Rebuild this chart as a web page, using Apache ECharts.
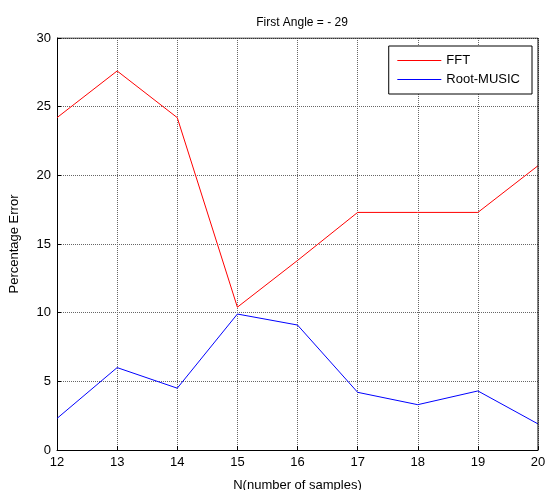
<!DOCTYPE html>
<html>
<head>
<meta charset="UTF-8">
<script src="https://cdn.jsdelivr.net/npm/echarts@6/dist/echarts.min.js"></script>
<style>
  html, body { margin: 0; padding: 0; background: #fff; }
  #main { width: 546px; height: 490px; }
</style>
</head>
<body>
<div id="main"></div>
<script>
// N values (x axis)
var samples = [12, 13, 14, 15, 16, 17, 18, 19, 20];
// percentage error
var fftErr = [24.2, 27.6, 24.2, 10.4, 13.8, 17.3, 17.3, 17.3, 20.7];
var musicErr = [2.3, 6.0, 4.5, 9.9, 9.1, 4.2, 3.3, 4.3, 1.9];

var chart = echarts.init(document.getElementById('main'));

function pairs(ys) {
  return samples.map(function (x, i) { return [x, ys[i]]; });
}

var font = 'Liberation Sans, Arial, sans-serif';

chart.setOption({
  animation: false,
  title: {
    text: 'First Angle = - 29',
    left: 297, top: 12, textAlign: 'center',
    textStyle: { fontSize: 12, fontWeight: 'normal', color: '#000', fontFamily: font }
  },
  grid: { left: 57, right: 8, top: 38, bottom: 40, outerBoundsMode: 'none', containLabel: false },
  legend: {
    right: 14, top: 46,
    orient: 'vertical',
    itemWidth: 44, itemHeight: 12, itemGap: 6,
    padding: [8, 12, 8, 8],
    borderColor: '#000', borderWidth: 1, backgroundColor: '#fff',
    itemStyle: { opacity: 0, borderWidth: 0 },
    textStyle: { fontSize: 13, color: '#000', fontFamily: font },
    data: [
      { name: 'FFT', lineStyle: { color: '#ff0000', width: 1.2 } },
      { name: 'Root-MUSIC', lineStyle: { color: '#0000ff', width: 1.2 } }
    ]
  },
  xAxis: {
    type: 'value', min: 12, max: 20, interval: 1,
    name: 'N(number of samples)', nameLocation: 'middle', nameGap: 29,
    nameTextStyle: { fontSize: 13, color: '#000', fontFamily: font },
    axisLine: { lineStyle: { color: '#000' } },
    axisTick: { inside: true, length: 4, lineStyle: { color: '#000' } },
    axisLabel: { fontSize: 13, color: '#000', fontFamily: font, margin: 6 },
    splitLine: { show: true, lineStyle: { color: '#666', type: [1, 1], width: 1 } }
  },
  yAxis: {
    type: 'value', min: 0, max: 30, interval: 5,
    name: 'Percentage Error', nameLocation: 'middle', nameGap: 36,
    nameTextStyle: { fontSize: 13, color: '#000', fontFamily: font },
    axisLine: { lineStyle: { color: '#000' } },
    axisTick: { inside: true, length: 4, lineStyle: { color: '#000' } },
    axisLabel: { fontSize: 13, color: '#000', fontFamily: font, margin: 6 },
    splitLine: { show: true, lineStyle: { color: '#666', type: [1, 1], width: 1 } }
  },
  series: [
    {
      name: 'FFT', type: 'line', data: pairs(fftErr),
      showSymbol: false, symbol: 'none',
      lineStyle: { color: '#ff0000', width: 1 }, itemStyle: { color: '#ff0000' }
    },
    {
      name: 'Root-MUSIC', type: 'line', data: pairs(musicErr),
      showSymbol: false, symbol: 'none',
      lineStyle: { color: '#0000ff', width: 1 }, itemStyle: { color: '#0000ff' }
    },
    {
      // box frame on top and right
      type: 'line', data: [[12, 30], [20, 30], [20, 0]],
      symbol: 'none', silent: true, lineStyle: { color: '#000', width: 1 }
    }
  ]
});
</script>
</body>
</html>
